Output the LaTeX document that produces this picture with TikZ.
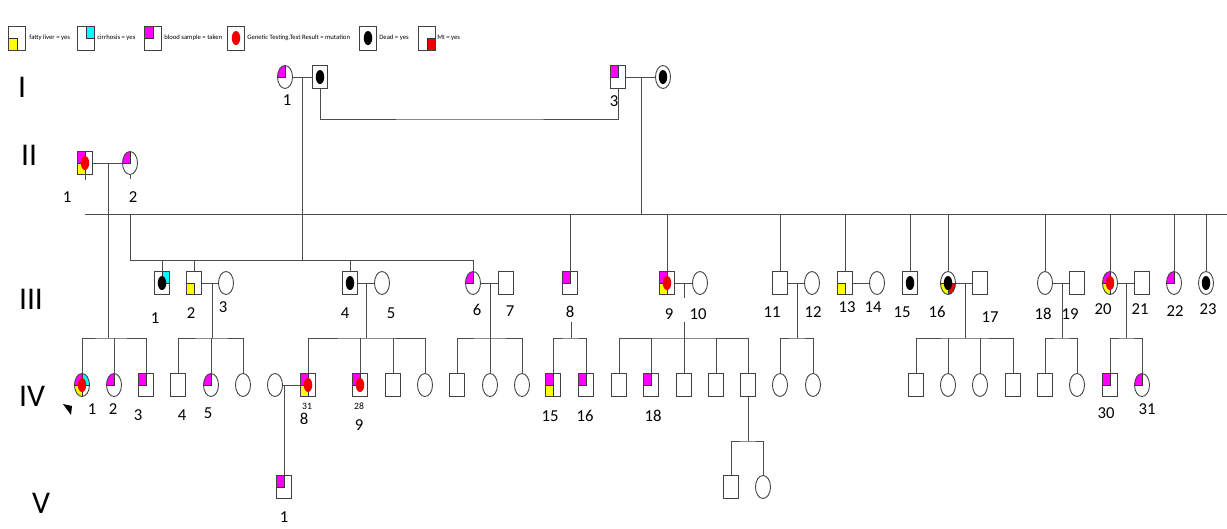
\documentclass[tikz,border=0pt]{standalone}
\usepackage{fontspec}
\setmainfont{Carlito}
\usetikzlibrary{shapes}

\definecolor{bld}{RGB}{255,0,255}
\definecolor{cir}{RGB}{0,255,255}
\definecolor{fat}{RGB}{255,255,0}
\definecolor{mut}{RGB}{240,0,0}

% quarter fill and centre mark inside a symbol
\newcommand{\quart}[2]{\fill[#1,draw=black!80,line width=0.3pt] (path picture bounding box.center) rectangle (path picture bounding box.#2);}
\newcommand{\blob}[1]{\fill[#1] (path picture bounding box.center) ellipse (0.085cm and 0.14cm);}

\begin{document}
\begin{tikzpicture}[x=0.02cm, y=-0.02cm,
    male/.style={rectangle, draw=black!75, fill=white, line width=0.5pt, minimum width=0.3cm, minimum height=0.46cm, inner sep=0pt},
    female/.style={ellipse, draw=black!75, fill=white, line width=0.5pt, minimum width=0.3cm, minimum height=0.46cm, inner sep=0pt},
    keybox/.style={male, minimum width=0.34cm, minimum height=0.48cm},
    mk/.style={path picture={#1}},
    rel/.style={draw=black!70, line width=0.55pt},
    num/.style={font=\fontsize{9.5}{11}\selectfont, inner sep=0pt},
    age/.style={font=\fontsize{5.5}{6}\selectfont, inner sep=0pt},
    gen/.style={font=\fontsize{18}{20}\selectfont, inner sep=0pt},
    key/.style={font=\fontsize{3.8}{4.5}\selectfont, inner sep=0pt, anchor=west}]

    \useasboundingbox (0,0) rectangle (1227,528);

    % legend
    \node[keybox, mk={\quart{fat}{south west}}] (kfat) at (17,38) {};
    \node[key] (tfat) at (29,38) {fatty liver = yes};
    \node[keybox, mk={\quart{cir}{north east}}] (kcir) at (86,38) {};
    \node[key] (tcir) at (97,38) {cirrhosis = yes};
    \node[keybox, mk={\quart{bld}{north west}}] (kbld) at (153,38) {};
    \node[key] (tbld) at (164,38) {blood sample = taken};
    \node[keybox, mk={\blob{mut}}] (kgen) at (236,38) {};
    \node[key] (tgen) at (247,38) {Genetic Testing.Test Result = mutation};
    \node[keybox, mk={\blob{black}}] (kdead) at (368,38) {};
    \node[key] (tdead) at (379,38) {Dead = yes};
    \node[keybox, mk={\quart{mut}{south east}}] (kmi) at (427,38) {};
    \node[key] (tmi) at (437,38) {MI = yes};

    % generation numbers
    \node[gen] (gI) at (22,87) {I};
    \node[gen] (gII) at (29,155) {II};
    \node[gen] (gIII) at (31,299) {III};
    \node[gen] (gIV) at (32,396) {IV};
    \node[gen] (gV) at (41,503) {V};

    % generation I
    \node[female, mk={\quart{bld}{north west}}] (i1) at (285,77) {};
    \node[male, mk={\blob{black}}] (i2) at (320,77) {};
    \node[male, mk={\quart{bld}{north west}}] (i3) at (618,77) {};
    \node[female, mk={\blob{black}}] (i4) at (663,77) {};

    % generation II
    \node[male, mk={\quart{bld}{north west}\quart{fat}{south west}\blob{mut}}] (ii1) at (85,163) {};
    \node[female, mk={\quart{bld}{north west}}] (ii2) at (130,163) {};

    % generation III
    \node[male, mk={\quart{cir}{north east}\blob{black}}] (iii1) at (162,283) {};
    \node[male, mk={\quart{fat}{south west}}] (iii2) at (194,283) {};
    \node[female] (iii3) at (226,283) {};
    \node[male, mk={\blob{black}}] (iii4) at (350,283) {};
    \node[female] (iii5) at (382,283) {};
    \node[female, mk={\quart{bld}{north west}}] (iii6) at (473,283) {};
    \node[male] (iii7) at (506,283) {};
    \node[male, mk={\quart{bld}{north west}}] (iii8) at (570,283) {};
    \node[male, mk={\quart{bld}{north west}\quart{fat}{south west}\blob{mut}}] (iii9) at (667,283) {};
    \node[female] (iii10) at (700,283) {};
    \node[male] (iii11) at (780,283) {};
    \node[female] (iii12) at (812,283) {};
    \node[male, mk={\quart{fat}{south west}}] (iii13) at (845,283) {};
    \node[female] (iii14) at (877,283) {};
    \node[male, mk={\blob{black}}] (iii15) at (910,283) {};
    \node[female, mk={\quart{fat}{south west}\quart{mut}{south east}\blob{black}}] (iii16) at (948,283) {};
    \node[male] (iii17) at (980,283) {};
    \node[female] (iii18) at (1045,283) {};
    \node[male] (iii19) at (1077,283) {};
    \node[female, mk={\quart{bld}{north west}\quart{fat}{south west}\blob{mut}}] (iii20) at (1110,283) {};
    \node[male] (iii21) at (1142,283) {};
    \node[female, mk={\quart{bld}{north west}}] (iii22) at (1174,283) {};
    \node[female, mk={\blob{black}}] (iii23) at (1206,283) {};

    % generation IV
    \node[female, mk={\quart{bld}{north west}\quart{cir}{north east}\quart{fat}{south west}\blob{mut}}] (iv1) at (82,385) {};
    \node[female, mk={\quart{bld}{north west}}] (iv2) at (114,385) {};
    \node[male, mk={\quart{bld}{north west}}] (iv3) at (146,385) {};
    \node[male] (iv4) at (178,385) {};
    \node[female, mk={\quart{bld}{north west}}] (iv5) at (211,385) {};
    \node[female] (iv6) at (243,385) {};
    \node[female] (iv7) at (275,385) {};
    \node[male, mk={\quart{bld}{north west}\quart{fat}{south west}\blob{mut}}] (iv8) at (308,385) {};
    \node[male, mk={\quart{bld}{north west}\blob{mut}}] (iv9) at (360,385) {};
    \node[male] (iv10) at (393,385) {};
    \node[female] (iv11) at (425,385) {};
    \node[male] (iv12) at (457,385) {};
    \node[female] (iv13) at (490,385) {};
    \node[female] (iv14) at (522,385) {};
    \node[male, mk={\quart{bld}{north west}\quart{fat}{south west}}] (iv15) at (553,385) {};
    \node[male, mk={\quart{bld}{north west}}] (iv16) at (586,385) {};
    \node[male] (iv17) at (619,385) {};
    \node[male, mk={\quart{bld}{north west}}] (iv18) at (651,385) {};
    \node[male] (iv19) at (684,385) {};
    \node[male] (iv20) at (716,385) {};
    \node[male] (iv21) at (748,385) {};
    \node[female] (iv22) at (780,385) {};
    \node[female] (iv23) at (813,385) {};
    \node[male] (iv24) at (916,385) {};
    \node[female] (iv25) at (948,385) {};
    \node[female] (iv26) at (980,385) {};
    \node[male] (iv27) at (1013,385) {};
    \node[male] (iv28) at (1045,385) {};
    \node[female] (iv29) at (1077,385) {};
    \node[male, mk={\quart{bld}{north west}}] (iv30) at (1110,385) {};
    \node[female, mk={\quart{bld}{north west}}] (iv31) at (1142,385) {};

    % generation V
    \node[male, mk={\quart{bld}{north west}}] (v1) at (284,487) {};
    \node[male] (v2) at (731,487) {};
    \node[female] (v3) at (763,487) {};

    % proband
    \fill (63,404) -- (72,406) -- (71,415) -- cycle;

    % numbers
    \node[num] (ni1) at (287,100) {1};
    \node[num] (ni3) at (614,101) {3};
    \node[num] (nii1) at (67,197) {1};
    \node[num] (nii2) at (133,197) {2};
    \node[num] (niii1) at (155,318) {1};
    \node[num] (niii2) at (191,313) {2};
    \node[num] (niii3) at (223,307) {3};
    \node[num] (niii4) at (345,313) {4};
    \node[num] (niii5) at (391,313) {5};
    \node[num] (niii6) at (477,310) {6};
    \node[num] (niii7) at (510,311) {7};
    \node[num] (niii8) at (570,312) {8};
    \node[num] (niii9) at (669,314) {9};
    \node[num] (niii10) at (698,314) {10};
    \node[num] (niii11) at (772,312) {11};
    \node[num] (niii12) at (813,312) {12};
    \node[num] (niii13) at (847,307) {13};
    \node[num] (niii14) at (873,307) {14};
    \node[num] (niii15) at (902,312) {15};
    \node[num] (niii16) at (937,312) {16};
    \node[num] (niii17) at (990,317) {17};
    \node[num] (niii18) at (1043,314) {18};
    \node[num] (niii19) at (1070,314) {19};
    \node[num] (niii20) at (1103,309) {20};
    \node[num] (niii21) at (1140,309) {21};
    \node[num] (niii22) at (1175,311) {22};
    \node[num] (niii23) at (1208,309) {23};
    \node[num] (niv1) at (92,409) {1};
    \node[num] (niv2) at (113,409) {2};
    \node[num] (niv3) at (138,415) {3};
    \node[num] (niv4) at (182,415) {4};
    \node[num] (niv5) at (208,413) {5};
    \node[age] (aiv8) at (307,406) {31};
    \node[num] (niv8) at (304,419) {8};
    \node[age] (aiv9) at (359,406) {28};
    \node[num] (niv9) at (359,425) {9};
    \node[num] (niv15) at (550,416) {15};
    \node[num] (niv16) at (585,416) {16};
    \node[num] (niv18) at (653,416) {18};
    \node[num] (niv30) at (1106,413) {30};
    \node[num] (niv31) at (1147,409) {31};
    \node[num] (nv1) at (284,517) {1};

    % generation I lines
    \coordinate (mI) at (302,77);
    \coordinate (mI2) at (641,77);
    \coordinate (lk) at (470,119);
    \coordinate (s3) at (302,260);
    \coordinate (L0) at (85,214);
    \coordinate (L1) at (1227,214);
    \draw[rel] (i1) -- (i2);
    \draw[rel] (i3) -- (i4);
    \draw[rel] (i2) |- (lk) -| (i3);
    \draw[rel] (mI) -- (s3);
    \draw[rel] (mI2) -- (mI2 |- L0);
    \draw[rel] (L0) -- (L1);

    % generation II lines
    \coordinate (mII) at (108,163);
    \coordinate (fA) at (108,338);
    \draw[rel] (ii1) -- (ii2);
    \draw[rel] (ii1.south) -- ++(0,5);
    \draw[rel] ([xshift=-0.06cm]ii1.south) -- ++(0.12cm,0);
    \draw[rel] (ii2.south) -- ++(0,4);
    \draw[rel] (mII) -- (fA);
    \draw[rel] (iv1) |- (fA) -| (iv3);
    \draw[rel] (iv2) -- (iv2 |- fA);

    % generation III lines
    \coordinate (t3) at (130,214);
    \draw[rel] (t3) |- (iii6 |- s3) -- (iii6);
    \foreach \n in {iii1,iii2,iii4}
        \draw[rel] (\n) -- (\n |- s3);
    \foreach \n in {iii8,iii9,iii11,iii13,iii15,iii16,iii18,iii20,iii22,iii23}
        \draw[rel] (\n) -- (\n |- L0);
    \draw[rel] (iii2) -- (iii3);
    \draw[rel] (iii4) -- (iii5);
    \draw[rel] (iii6) -- (iii7);
    \draw[rel] (iii9) -- (iii10);
    \draw[rel] (iii11) -- (iii12);
    \draw[rel] (iii13) -- (iii14);
    \draw[rel] (iii16) -- (iii17);
    \draw[rel] (iii18) -- (iii19);
    \draw[rel] (iii20) -- (iii21);

    % sibships of generation IV
    \coordinate (mB) at (212,283); \coordinate (fB) at (212,338);
    \draw[rel] (mB) -- (fB);
    \draw[rel] (iv4) |- (fB) -| (iv6);
    \draw[rel] (iv5) -- (iv5 |- fB);

    \coordinate (mC) at (366,283); \coordinate (fC) at (366,338);
    \draw[rel] (mC) -- (fC);
    \draw[rel] (iv8) |- (fC) -| (iv11);
    \foreach \n in {iv9,iv10}
        \draw[rel] (\n) -- (\n |- fC);

    \coordinate (mD) at (490,283); \coordinate (fD) at (490,338);
    \draw[rel] (mD) -- (fD);
    \draw[rel] (iv12) |- (fD) -| (iv14);
    \draw[rel] (iv13) -- (iv13 |- fD);

    \coordinate (dE) at (571,322); \coordinate (fE) at (571,338);
    \draw[rel] (dE) -- (fE);
    \draw[rel] (iv15) |- (fE) -| (iv16);

    \coordinate (mF) at (684,283); \coordinate (mF2) at (684,298);
    \coordinate (dF) at (684,322); \coordinate (fF) at (684,338);
    \draw[rel] (mF) -- (mF2);
    \draw[rel] (dF) -- (fF);
    \draw[rel] (iv17) |- (fF) -| (iv21);
    \foreach \n in {iv18,iv19,iv20}
        \draw[rel] (\n) -- (\n |- fF);

    \coordinate (mG) at (797,283); \coordinate (fG) at (797,338);
    \draw[rel] (mG) -- (fG);
    \draw[rel] (iv22) |- (fG) -| (iv23);

    \coordinate (mH) at (965,283); \coordinate (fH) at (965,338);
    \draw[rel] (mH) -- (fH);
    \draw[rel] (iv24) |- (fH) -| (iv27);
    \foreach \n in {iv25,iv26}
        \draw[rel] (\n) -- (\n |- fH);

    \coordinate (mJ) at (1062,283); \coordinate (fJ) at (1062,338);
    \draw[rel] (mJ) -- (fJ);
    \draw[rel] (iv28) |- (fJ) -| (iv29);

    \coordinate (mK) at (1126,283); \coordinate (fK) at (1126,338);
    \draw[rel] (mK) -- (fK);
    \draw[rel] (iv30) |- (fK) -| (iv31);

    % generation IV to V
    \coordinate (mIV) at (284,385);
    \coordinate (fV) at (748,441);
    \draw[rel] (iv7) -- (iv8);
    \draw[rel] (mIV) -- (v1);
    \draw[rel] (iv21) -- (fV);
    \draw[rel] (v2) |- (fV) -| (v3);
\end{tikzpicture}
\end{document}
